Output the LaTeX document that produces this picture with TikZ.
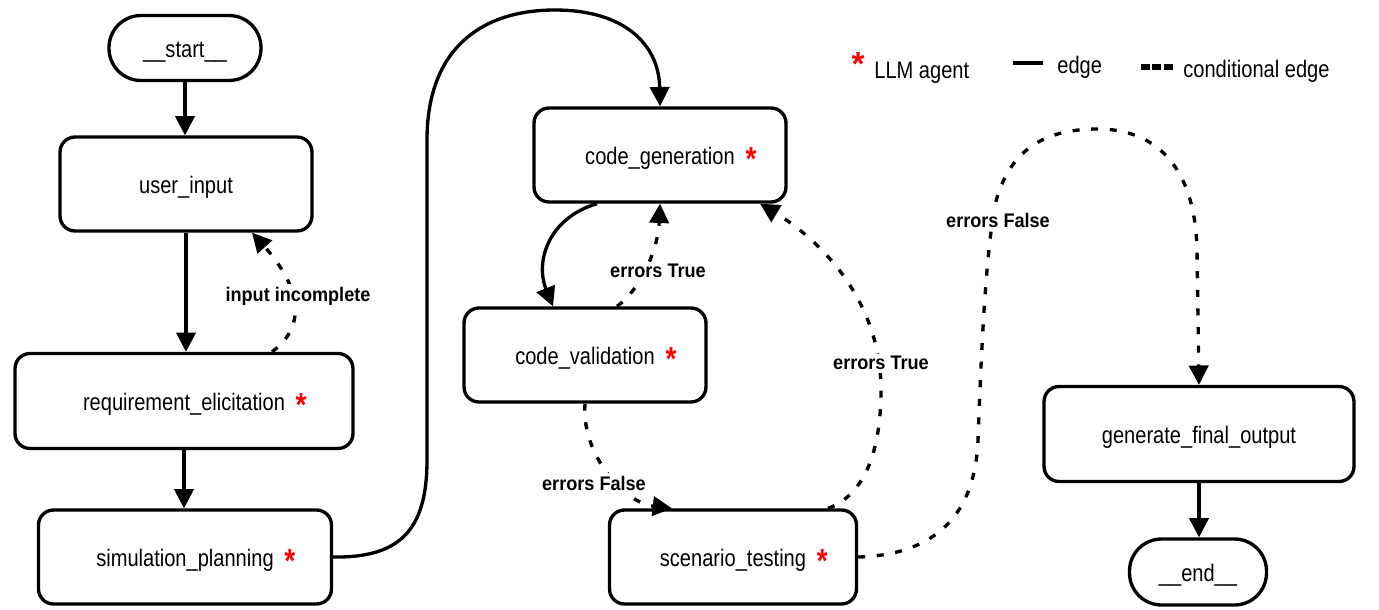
\documentclass[tikz,border=0pt]{standalone}
\usepackage{fontspec}
\setmainfont{Liberation Sans}
\newfontfamily\nodefont[FakeStretch=0.84]{Liberation Sans}
\newfontfamily\labfont[FakeStretch=0.92]{Liberation Sans}
\usetikzlibrary{arrows.meta,calc}
\newcommand{\starglyph}{{\color{red}\fontsize{19pt}{19pt}\selectfont\bfseries *}}
\newcommand{\llmstar}{\raisebox{-3.5pt}{\starglyph}}
\newcommand{\agent}[1]{#1\rlap{\hspace{0.45em}\llmstar}}
\tikzset{
  box/.style={draw, line width=1.9pt, rounded corners=0.3cm, font=\nodefont\fontsize{13.6pt}{16pt}\selectfont, inner sep=0pt, align=center, text height=10.6pt, text depth=0pt},
  term/.style={box, rounded corners=0.64cm},
  edge/.style={line width=1.9pt, -{Triangle[length=11pt,width=11pt]}},
  cedge/.style={edge, dash pattern=on 4pt off 6.6pt},
  lab/.style={font=\labfont\bfseries\fontsize{11.2pt}{13pt}\selectfont, fill=white, inner sep=1.5pt},
  legtext/.style={font=\nodefont\fontsize{13.6pt}{16pt}\selectfont, inner sep=0pt, anchor=base west},
}
\begin{document}
\begin{tikzpicture}[x=0.02cm,y=-0.02cm]
\useasboundingbox (0,0) rectangle (1379,609);
% nodes
\node[term, minimum width=3.04cm, minimum height=1.30cm] (start) at (185,48) {\_\_start\_\_};
\node[box, minimum width=5.04cm, minimum height=1.88cm] (user) at (186,184) {user\_input};
\node[box, minimum width=6.76cm, minimum height=1.90cm] (req) at (184,401) {\agent{requirement\_elicitation}};
\node[box, minimum width=5.86cm, minimum height=1.88cm] (sim) at (185,557) {\agent{simulation\_planning}};
\node[box, minimum width=5.04cm, minimum height=1.88cm] (cgen) at (660,155) {\agent{code\_generation}};
\node[box, minimum width=4.84cm, minimum height=1.88cm] (cval) at (585,355) {\agent{code\_validation}};
\node[box, minimum width=4.94cm, minimum height=1.88cm] (scen) at (733,557) {\agent{scenario\_testing}};
\node[box, minimum width=6.20cm, minimum height=1.90cm] (gen) at (1199,434) {generate\_final\_output};
\node[term, minimum width=2.74cm, minimum height=1.32cm] (end) at (1198,572) {\_\_end\_\_};
% solid edges
\draw[edge] (start.south) -- (start.south |- user.north);
\draw[edge] (user.south) -- (user.south |- req.north);
\draw[edge] (req.south) -- (req.south |- sim.north);
\draw[edge] (gen.south) -- (gen.south |- end.north);
\draw[edge] (sim.east) .. controls (400,558) and (427,530) .. (427,460) -- (427,140)
  .. controls (427,50) and (480,10) .. (555,10) .. controls (625,10) and (659,45) .. (cgen.north);
\draw[edge] ($(cgen.south)+(-63,0)$) .. controls (548,218) and (535,262) .. ($(cval.north)+(-32,0)$);
% conditional edges
\draw[cedge] ($(req.north)+(88,0)$) .. controls (315,320) and (290,275) .. ($(user.south)+(66,0)$);
\draw[cedge] ($(cval.north)+(32,0)$) .. controls (640,290) and (658,250) .. (cgen.south);
\draw[cedge] (cval.south) .. controls (581,455) and (625,503) .. ($(scen.north)+(-61,0)$);
\draw[cedge] ($(scen.north)+(95,0)$) .. controls (865,495) and (881,450) .. (881,390)
  .. controls (881,300) and (820,240) .. ($(cgen.south)+(100,0)$);
\draw[cedge] (scen.east) .. controls (930,555) and (975,520) .. (978,440)
  .. controls (981,360) and (985,260) .. (995,205)
  .. controls (1010,145) and (1050,129) .. (1098,129)
  .. controls (1150,129) and (1195,160) .. (1197,250) -- (gen.north);
% labels
\node[lab] (l1) at (298,296) {input incomplete};
\node[lab] (l2) at (658,271) {errors True};
\node[lab] (l3) at (594,483) {errors False};
\node[lab] (l4) at (881,363) {errors True};
\node[lab] (l5) at (998,220) {errors False};
% legend
\node[anchor=base, inner sep=0pt] (legstar) at (858,75) {\starglyph};
\node[legtext] (legllm) at (874,78) {LLM agent};
\coordinate (ls1) at (1013,63);
\coordinate (ls2) at (1043,63);
\draw[line width=2.8pt] (ls1) -- (ls2);
\node[legtext] (legedge) at (1057,73) {edge};
\coordinate (ld1) at (1141,67);
\coordinate (ld2) at (1173,67);
\draw[line width=3pt, dash pattern=on 5pt off 1.5pt] (ld1) -- (ld2);
\node[legtext] (legcond) at (1183,77) {conditional edge};
\end{tikzpicture}
\end{document}
